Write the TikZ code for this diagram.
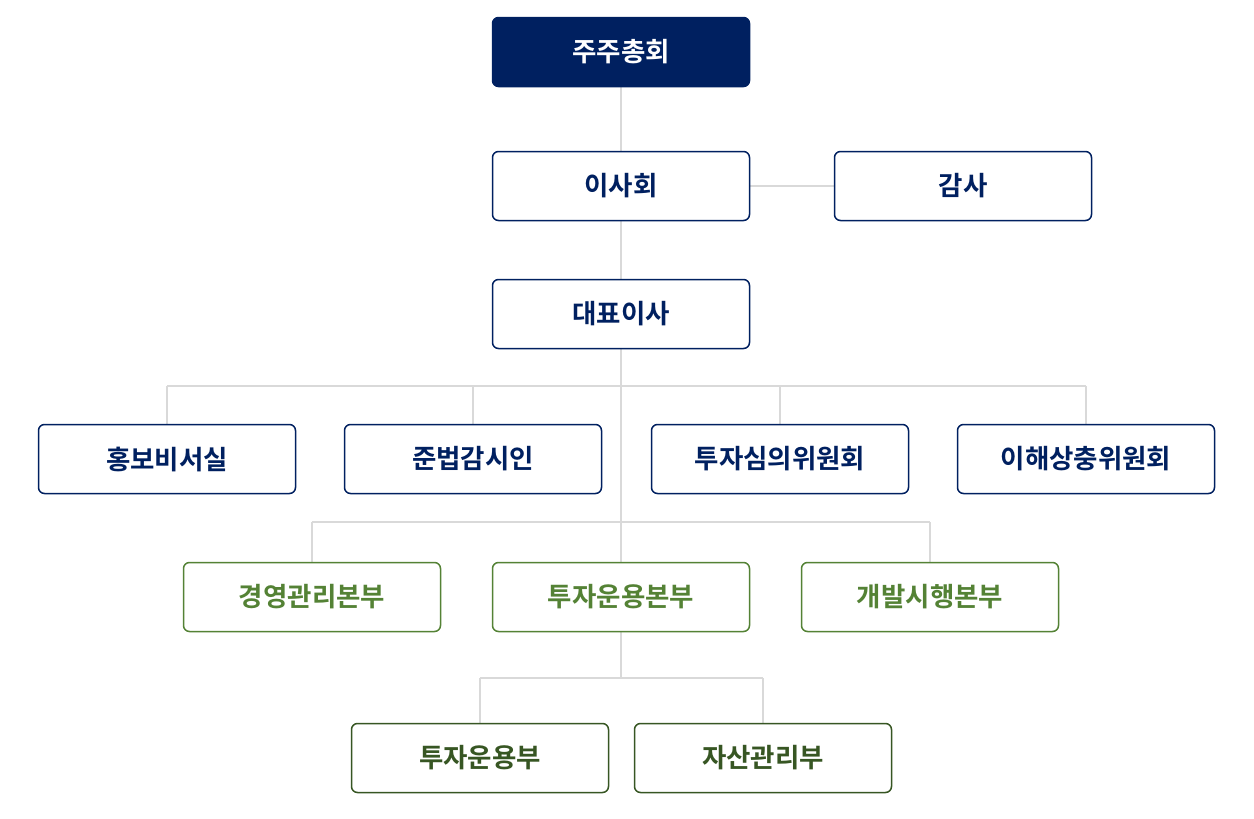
\documentclass[tikz,border=0pt]{standalone}
\usepackage{fontspec}
\setmainfont{Noto Sans CJK KR}[BoldFont={* Bold}]
\definecolor{navy}{HTML}{002060}
\definecolor{gr}{HTML}{548235}
\definecolor{dgr}{HTML}{375623}
\definecolor{ln}{HTML}{D9D9D9}
\begin{document}
\begin{tikzpicture}[x=1pt,y=-1pt,
 box/.style={draw=navy,line width=1.5pt,rounded corners=6pt,minimum width=257pt,minimum height=69pt,text=navy,font=\bfseries\fontsize{26.5}{30}\selectfont,fill=white},
 top/.style={box,fill=navy,text=white},
 gbox/.style={box,draw=gr,text=gr},
 dbox/.style={box,draw=dgr,text=dgr},
 conn/.style={draw=ln,line width=1.5pt}]
\useasboundingbox (0,0) rectangle (1254,819);
\fill[white] (0,0) rectangle (1254,819);
\coordinate (j1) at (621,386);
\coordinate (j2) at (621,522);
\coordinate (j3) at (621,678);
\coordinate (h1l) at (167,386); \coordinate (h1a) at (473,386); \coordinate (h1b) at (780,386); \coordinate (h1r) at (1086,386);
\coordinate (h2l) at (312,522); \coordinate (h2r) at (930,522);
\coordinate (h3l) at (480,678); \coordinate (h3r) at (763,678);
\draw[conn] (621,87) -- (621,563);
\draw[conn] (621,631) -- (j3);
\draw[conn] (h1l) -- (h1r);
\draw[conn] (h2l) -- (h2r);
\draw[conn] (h3l) -- (h3r);
\draw[conn] (h1l) -- (167,424); \draw[conn] (h1a) -- (473,424);
\draw[conn] (h1b) -- (780,424); \draw[conn] (h1r) -- (1086,424);
\draw[conn] (h2l) -- (312,563); \draw[conn] (h2r) -- (930,563);
\draw[conn] (h3l) -- (480,724); \draw[conn] (h3r) -- (763,724);
\draw[conn] (621,186) -- (963,186);
\node[top] (a) at (621,52) {주주총회};
\node[box] (b) at (621,186) {이사회};
\node[box] (c) at (963,186) {감사};
\node[box] (d) at (621,314) {대표이사};
\node[box] (e1) at (167,459) {홍보비서실};
\node[box] (e2) at (473,459) {준법감시인};
\node[box] (e3) at (780,459) {투자심의위원회};
\node[box] (e4) at (1086,459) {이해상충위원회};
\node[gbox] (f1) at (312,597) {경영관리본부};
\node[gbox] (f2) at (621,597) {투자운용본부};
\node[gbox] (f3) at (930,597) {개발시행본부};
\node[dbox] (g1) at (480,758) {투자운용부};
\node[dbox] (g2) at (763,758) {자산관리부};
\end{tikzpicture}
\end{document}
